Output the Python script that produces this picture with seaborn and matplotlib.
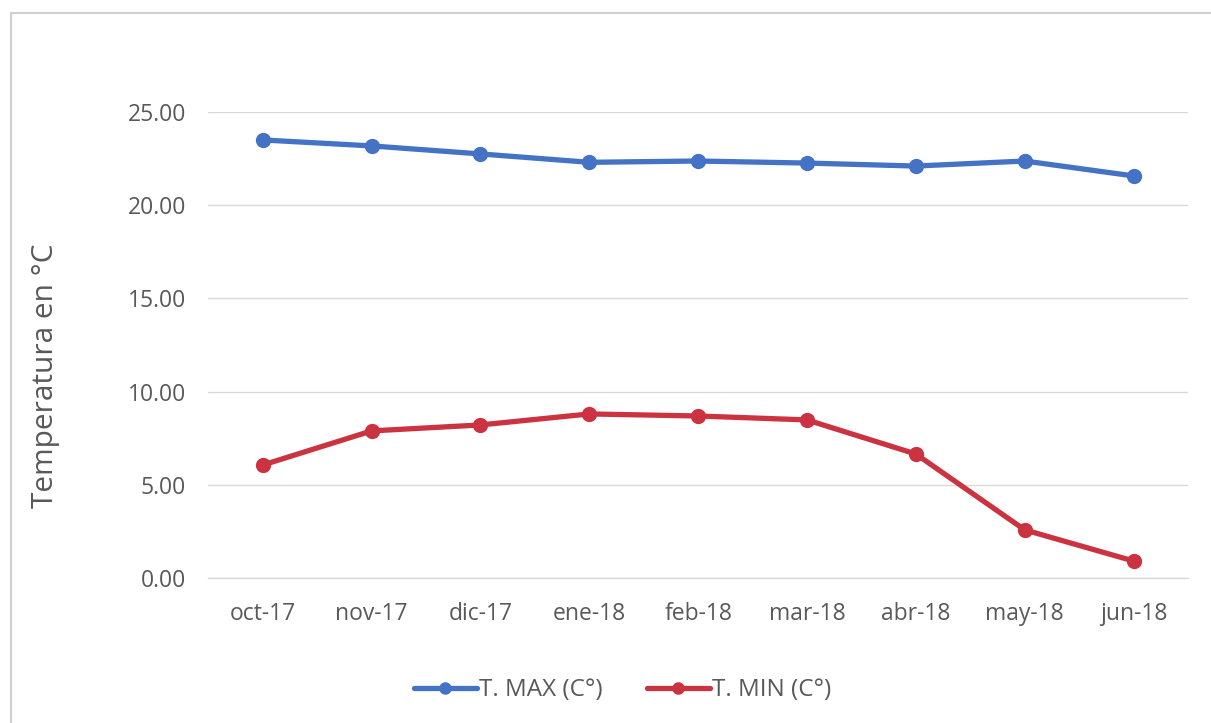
import matplotlib
matplotlib.use("Agg")
import matplotlib.pyplot as plt
import matplotlib.lines as mlines
import seaborn as sns
import pandas as pd

months = ["oct-17", "nov-17", "dic-17", "ene-18", "feb-18", "mar-18", "abr-18", "may-18", "jun-18"]
t_max = [23.50, 23.18, 22.75, 22.30, 22.37, 22.26, 22.10, 22.37, 21.57]
t_min = [6.06, 7.89, 8.21, 8.80, 8.69, 8.48, 6.65, 2.58, 0.91]
series_names = ["T. MAX (C°)", "T. MIN (C°)"]
y_ticks = [0, 5, 10, 15, 20, 25]

sns.set_theme(style="white")
plt.rcParams['font.family'] = ['Open Sans', 'DejaVu Sans']

df = pd.DataFrame({
    "mes": months * 2,
    "idx": list(range(len(months))) * 2,
    "valor": t_max + t_min,
    "serie": [series_names[0]] * len(months) + [series_names[1]] * len(months),
})

colors = {series_names[0]: "#4472C4", series_names[1]: "#CC3340"}

fig = plt.figure(figsize=(12.11, 7.23), dpi=100)
ax = fig.add_axes([0.172, 0.2006, 0.809, 0.6445])

sns.lineplot(data=df, x="idx", y="valor", hue="serie", palette=colors,
             marker="o", markersize=11, linewidth=3.8, markeredgewidth=0,
             ax=ax, legend=False, sort=False)

ax.set_xlim(-0.5, len(months) - 0.5)
ax.set_ylim(0, 25)
ax.set_yticks(y_ticks)
ax.set_yticklabels([f"{v:.2f}" for v in y_ticks], fontsize=16.5, color="#595959")
ax.set_xticks(range(len(months)))
ax.set_xticklabels(months, fontsize=16.5, color="#595959")
ax.tick_params(axis="y", length=0, pad=16)
ax.tick_params(axis="x", length=0, pad=17)
ax.yaxis.grid(True, color="#D9D9D9", linewidth=1)
ax.xaxis.grid(False)
for s in ["top", "right", "left"]:
    ax.spines[s].set_visible(False)
ax.spines["bottom"].set_color("#D9D9D9")
ax.spines["bottom"].set_linewidth(1)
ax.set_xlabel("")
ax.set_ylabel("Temperatura en °C", fontsize=21.5, color="#595959")
ax.yaxis.set_label_coords(-0.151, 0.433)

handles = [mlines.Line2D([], [], color=colors[n], marker="o", markersize=9,
                         linewidth=3.8, markeredgewidth=0, label=n) for n in series_names]
fig.legend(handles=handles, loc="center", bbox_to_anchor=(0.514, 0.045), ncol=2,
           frameon=False, fontsize=17.5, handlelength=2.6, handletextpad=0.1,
           columnspacing=1.8, labelcolor="#595959")

# outer chart frame
fig.add_artist(mlines.Line2D([0.009, 0.009], [0.0, 0.982], transform=fig.transFigure,
                             color="#D0D0D0", linewidth=1.5))
fig.add_artist(mlines.Line2D([0.009, 1.0], [0.982, 0.982], transform=fig.transFigure,
                             color="#D0D0D0", linewidth=1.5))

fig.savefig("out.png", dpi=100, facecolor="white")
